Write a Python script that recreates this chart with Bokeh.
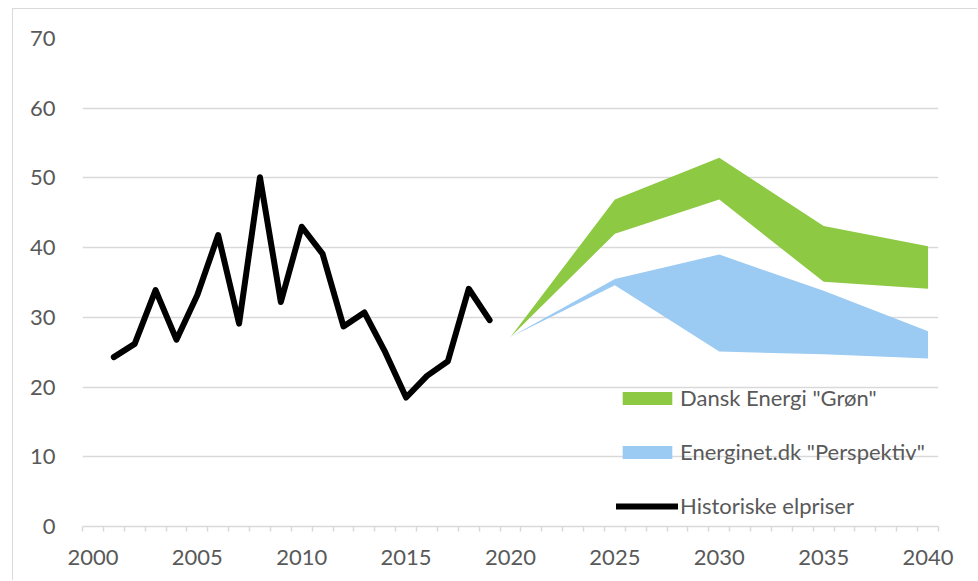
from bokeh.plotting import figure
from bokeh.models import Range1d, FixedTicker, Legend, LegendItem, CustomJSTickFormatter
from bokeh.embed import file_html
from bokeh.resources import INLINE

# ---------------- data ----------------
hist_years = [2001, 2002, 2003, 2004, 2005, 2006, 2007, 2008, 2009, 2010,
              2011, 2012, 2013, 2014, 2015, 2016, 2017, 2018, 2019]
hist_prices = [24.3, 26.2, 33.9, 26.8, 33.2, 41.8, 29.1, 50.1, 32.2, 43.0,
               39.1, 28.7, 30.7, 25.0, 18.5, 21.6, 23.7, 34.1, 29.6]

fc_years = [2020, 2025, 2030, 2035, 2040]
groen_low = [27.2, 42.0, 46.9, 35.1, 34.1]
groen_high = [27.2, 46.9, 52.9, 43.1, 40.2]
persp_low = [27.2, 34.6, 25.1, 24.7, 24.1]
persp_high = [27.2, 35.5, 39.0, 33.8, 28.0]

x_labels = [2000, 2005, 2010, 2015, 2020, 2025, 2030, 2035, 2040]
y_ticks = [0, 10, 20, 30, 40, 50, 60, 70]

label_groen = 'Dansk Energi "Grøn"'
label_persp = 'Energinet.dk "Perspektiv"'
label_hist = 'Historiske elpriser'

# ---------------- style ----------------
FONT = "Lato"
TXT = "#595959"
GRID = "#d9d9d9"
GREEN = "#8DC942"
BLUE = "#9BCAF2"

# the figure sits 12px from the left and 8px from the top with a thin frame
p = figure(width=965, height=572, output_backend="svg", toolbar_location=None,
           x_range=Range1d(1999.5, 2040.5), y_range=Range1d(0, 70),
           min_border_left=69, min_border_right=40, min_border_top=29,
           min_border_bottom=55)
p.styles = {"margin-left": "12px", "margin-top": "8px",
            "border-left": "1px solid #d9d9d9", "border-top": "1px solid #d9d9d9"}
p.outline_line_color = None
p.background_fill_color = "white"
p.border_fill_color = "white"

# x axis: categories with tick marks between them
p.xaxis.ticker = FixedTicker(ticks=x_labels,
                             minor_ticks=[y - 0.5 for y in range(2000, 2042)])
p.xaxis.formatter = CustomJSTickFormatter(code="return String(Math.round(tick));")
p.xaxis.axis_line_color = GRID
p.xaxis.axis_line_width = 1.5
p.xaxis.major_tick_line_color = None
p.xaxis.major_tick_out = 0
p.xaxis.major_tick_in = 0
p.xaxis.minor_tick_line_color = GRID
p.xaxis.minor_tick_line_width = 1.5
p.xaxis.minor_tick_out = 5
p.xaxis.minor_tick_in = 0
p.xaxis.major_label_standoff = 18
p.xaxis.major_label_text_font = FONT
p.xaxis.major_label_text_font_size = "22px"
p.xaxis.major_label_text_color = TXT
p.xgrid.grid_line_color = None

p.yaxis.ticker = FixedTicker(ticks=y_ticks)
p.yaxis.axis_line_color = None
p.yaxis.major_tick_line_color = None
p.yaxis.minor_tick_line_color = None
p.yaxis.major_tick_out = 0
p.yaxis.major_label_standoff = 27
p.yaxis.major_label_text_font = FONT
p.yaxis.major_label_text_font_size = "22px"
p.yaxis.major_label_text_color = TXT
p.ygrid.ticker = FixedTicker(ticks=y_ticks)
p.ygrid.grid_line_color = GRID
p.ygrid.grid_line_width = 1.5

# ---------------- glyphs ----------------
r_g = p.varea(x=fc_years, y1=groen_low, y2=groen_high, fill_color=GREEN)
r_b = p.varea(x=fc_years, y1=persp_low, y2=persp_high, fill_color=BLUE)
r_h = p.line(x=hist_years, y=hist_prices, line_color="black", line_width=6,
             line_join="round", line_cap="round")

legend = Legend(items=[LegendItem(label=label_groen, renderers=[r_g]),
                       LegendItem(label=label_persp, renderers=[r_b]),
                       LegendItem(label=label_hist, renderers=[r_h])],
                location=(534, 7), orientation="vertical",
                glyph_width=62, glyph_height=16, label_standoff=2,
                label_height=24, spacing=27, padding=0, margin=0,
                background_fill_alpha=0, border_line_color=None,
                label_text_font=FONT, label_text_font_size="22px",
                label_text_color=TXT)
p.add_layout(legend, "center")

open("out.html", "w").write(file_html(p, INLINE))
